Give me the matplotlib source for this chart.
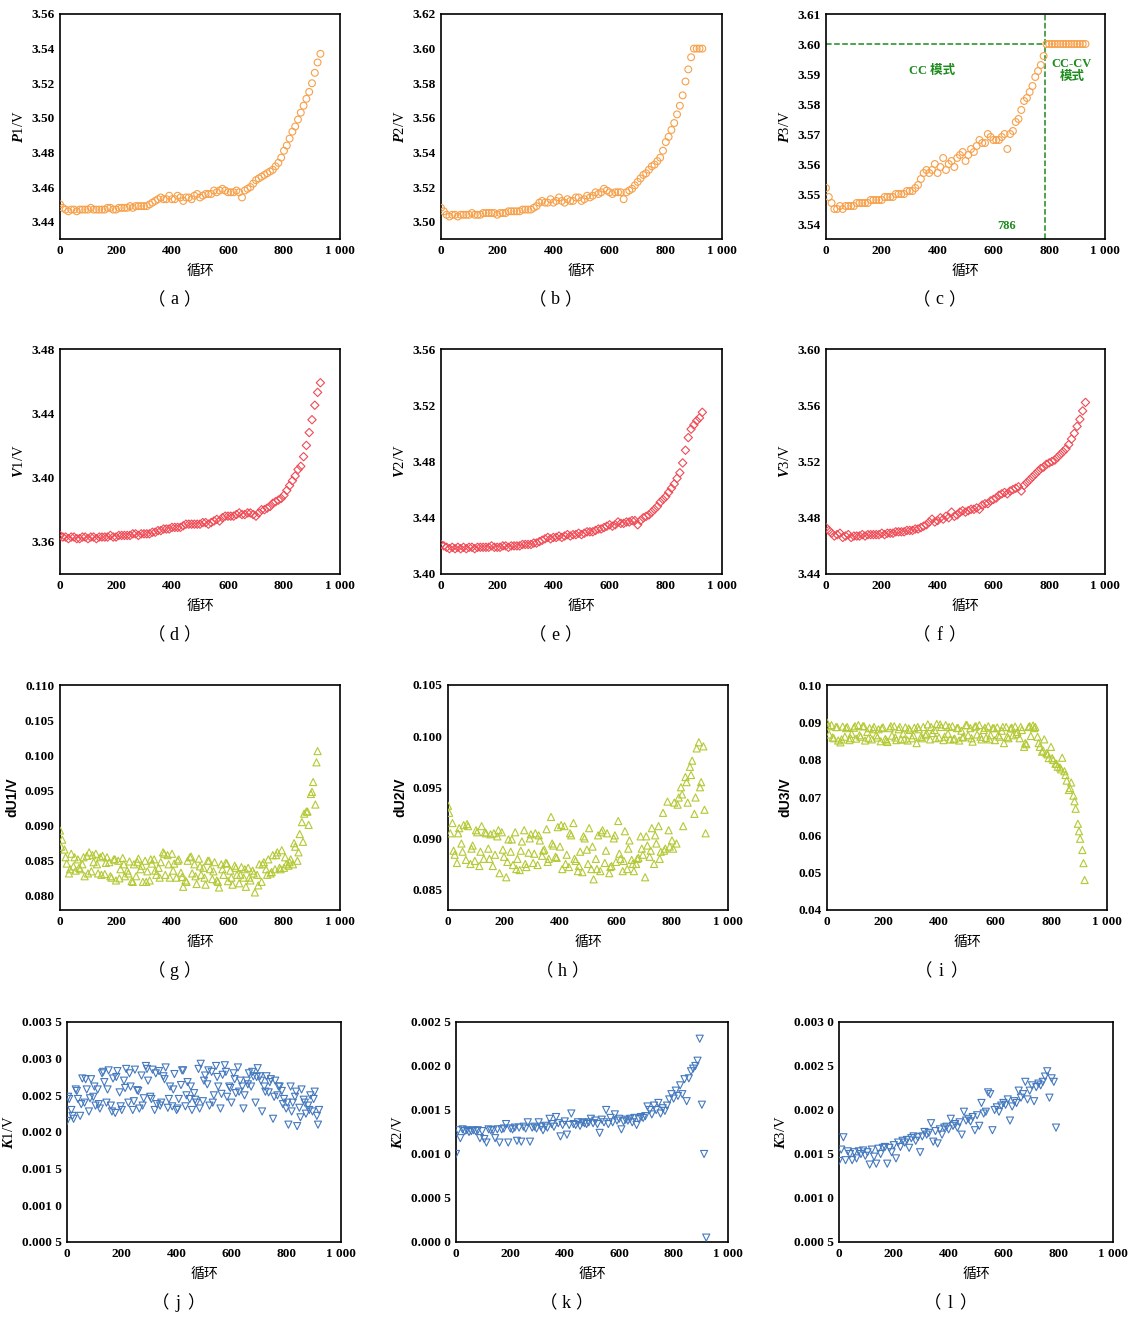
import numpy as np
import matplotlib
matplotlib.use('Agg')
import matplotlib.pyplot as plt
import matplotlib.ticker as mtick

plt.rcParams['font.family'] = ['Liberation Serif', 'Noto Sans CJK SC']
plt.rcParams['mathtext.fontset'] = 'custom'
plt.rcParams['mathtext.rm'] = 'Liberation Serif'
plt.rcParams['mathtext.it'] = 'Liberation Serif:italic:bold'
plt.rcParams['mathtext.bf'] = 'Liberation Serif:bold'

# cycle numbers
cyc10 = np.arange(0, 931, 10)
cyc8 = np.arange(0, 921, 8)
cyc16 = np.arange(4, 921, 16)
cyc8_l = np.arange(0, 793, 8)

# P1..P3 (circles)
p1 = [3.450, 3.448, 3.447, 3.446, 3.447, 3.447, 3.446, 3.447, 3.447, 3.447,
      3.447, 3.448, 3.447, 3.447, 3.447, 3.447, 3.447, 3.448, 3.448, 3.447,
      3.447, 3.448, 3.448, 3.448, 3.448, 3.449, 3.448, 3.449, 3.449, 3.449,
      3.449, 3.449, 3.450, 3.451, 3.452, 3.453, 3.454, 3.453, 3.453, 3.455,
      3.453, 3.453, 3.455, 3.454, 3.452, 3.454, 3.454, 3.453, 3.455, 3.456,
      3.454, 3.455, 3.456, 3.456, 3.456, 3.458, 3.457, 3.458, 3.459, 3.458,
      3.457, 3.457, 3.457, 3.458, 3.457, 3.454, 3.458, 3.459, 3.460, 3.462,
      3.464, 3.465, 3.466, 3.467, 3.468, 3.469, 3.470, 3.472, 3.474, 3.477,
      3.481, 3.484, 3.488, 3.492, 3.495, 3.499, 3.503, 3.507, 3.511, 3.515,
      3.520, 3.526, 3.532, 3.537]
p2 = [3.508, 3.506, 3.504, 3.503, 3.504, 3.504, 3.503, 3.504, 3.504, 3.504,
      3.504, 3.505, 3.504, 3.504, 3.504, 3.505, 3.505, 3.505, 3.505, 3.505,
      3.504, 3.505, 3.505, 3.505, 3.506, 3.506, 3.506, 3.506, 3.506, 3.507,
      3.507, 3.507, 3.507, 3.508, 3.509, 3.511, 3.512, 3.511, 3.511, 3.513,
      3.511, 3.512, 3.514, 3.512, 3.511, 3.513, 3.512, 3.512, 3.514, 3.514,
      3.512, 3.513, 3.515, 3.514, 3.515, 3.517, 3.516, 3.517, 3.519, 3.518,
      3.517, 3.516, 3.517, 3.517, 3.517, 3.513, 3.517, 3.518, 3.519, 3.521,
      3.523, 3.525, 3.527, 3.528, 3.530, 3.532, 3.533, 3.535, 3.537, 3.541,
      3.546, 3.549, 3.553, 3.557, 3.562, 3.567, 3.573, 3.581, 3.588, 3.595,
      3.600, 3.600, 3.600, 3.600]
p3 = [3.552, 3.549, 3.547, 3.545, 3.545, 3.546, 3.545, 3.546, 3.546, 3.546,
      3.546, 3.547, 3.547, 3.547, 3.547, 3.547, 3.548, 3.548, 3.548, 3.548,
      3.548, 3.549, 3.549, 3.549, 3.549, 3.550, 3.550, 3.550, 3.550, 3.551,
      3.551, 3.551, 3.552, 3.553, 3.555, 3.557, 3.558, 3.557, 3.558, 3.560,
      3.557, 3.559, 3.562, 3.558, 3.560, 3.561, 3.559, 3.562, 3.563, 3.564,
      3.561, 3.563, 3.565, 3.564, 3.566, 3.568, 3.567, 3.567, 3.570, 3.569,
      3.568, 3.568, 3.568, 3.569, 3.570, 3.565, 3.570, 3.571, 3.574, 3.575,
      3.578, 3.581, 3.582, 3.584, 3.586, 3.589, 3.591, 3.593, 3.596, 3.600,
      3.600, 3.600, 3.600, 3.600, 3.600, 3.600, 3.600, 3.600, 3.600, 3.600,
      3.600, 3.600, 3.600, 3.600]

# V1..V3 (diamonds)
v1 = [3.364, 3.363, 3.363, 3.362, 3.363, 3.363, 3.362, 3.362, 3.363, 3.363,
      3.362, 3.363, 3.363, 3.362, 3.363, 3.363, 3.363, 3.363, 3.364, 3.363,
      3.363, 3.364, 3.364, 3.364, 3.364, 3.364, 3.365, 3.365, 3.364, 3.365,
      3.365, 3.365, 3.365, 3.366, 3.366, 3.367, 3.367, 3.368, 3.368, 3.368,
      3.369, 3.369, 3.369, 3.369, 3.370, 3.371, 3.371, 3.371, 3.371, 3.371,
      3.371, 3.372, 3.372, 3.371, 3.372, 3.373, 3.374, 3.373, 3.375, 3.376,
      3.376, 3.376, 3.376, 3.377, 3.378, 3.377, 3.377, 3.378, 3.378, 3.377,
      3.376, 3.378, 3.380, 3.380, 3.381, 3.382, 3.384, 3.385, 3.386, 3.387,
      3.389, 3.392, 3.395, 3.398, 3.401, 3.405, 3.407, 3.413, 3.420, 3.428,
      3.436, 3.445, 3.453, 3.459]
v2 = [3.421, 3.420, 3.419, 3.418, 3.419, 3.418, 3.419, 3.418, 3.419, 3.418,
      3.419, 3.419, 3.418, 3.419, 3.419, 3.419, 3.419, 3.419, 3.420, 3.419,
      3.419, 3.419, 3.420, 3.420, 3.419, 3.420, 3.420, 3.420, 3.420, 3.421,
      3.421, 3.421, 3.421, 3.422, 3.422, 3.423, 3.424, 3.425, 3.426, 3.425,
      3.426, 3.426, 3.427, 3.426, 3.427, 3.428, 3.427, 3.428, 3.428, 3.429,
      3.428, 3.429, 3.430, 3.430, 3.430, 3.431, 3.432, 3.432, 3.433, 3.434,
      3.435, 3.434, 3.435, 3.437, 3.436, 3.436, 3.437, 3.437, 3.438, 3.438,
      3.435, 3.438, 3.440, 3.441, 3.442, 3.444, 3.446, 3.448, 3.451, 3.453,
      3.455, 3.458, 3.461, 3.464, 3.468, 3.472, 3.479, 3.488, 3.497, 3.503,
      3.506, 3.509, 3.511, 3.515]
v3 = [3.473, 3.471, 3.469, 3.467, 3.468, 3.469, 3.466, 3.467, 3.468, 3.466,
      3.467, 3.467, 3.467, 3.468, 3.467, 3.468, 3.468, 3.468, 3.468, 3.468,
      3.469, 3.468, 3.469, 3.469, 3.469, 3.470, 3.470, 3.470, 3.470, 3.471,
      3.471, 3.471, 3.472, 3.472, 3.473, 3.474, 3.475, 3.477, 3.479, 3.477,
      3.478, 3.480, 3.479, 3.481, 3.480, 3.484, 3.481, 3.482, 3.484, 3.485,
      3.484, 3.485, 3.486, 3.486, 3.487, 3.486, 3.489, 3.490, 3.490, 3.492,
      3.493, 3.494, 3.496, 3.497, 3.498, 3.497, 3.499, 3.500, 3.501, 3.502,
      3.499, 3.503, 3.505, 3.507, 3.509, 3.511, 3.513, 3.515, 3.516, 3.518,
      3.519, 3.520, 3.521, 3.523, 3.525, 3.527, 3.529, 3.532, 3.536, 3.540,
      3.545, 3.550, 3.556, 3.562]

# dU1..dU3 (triangles): main set on cyc8, extra set on cyc16
du1 = [0.0893, 0.0880, 0.0866, 0.0846, 0.0832, 0.0860, 0.0842, 0.0836, 0.0852, 0.0838,
       0.0845, 0.0828, 0.0857, 0.0862, 0.0835, 0.0848, 0.0860, 0.0832, 0.0855, 0.0857,
       0.0831, 0.0855, 0.0848, 0.0826, 0.0852, 0.0822, 0.0850, 0.0838, 0.0854, 0.0828,
       0.0836, 0.0849, 0.0821, 0.0845, 0.0828, 0.0853, 0.0838, 0.0820, 0.0850, 0.0835,
       0.0822, 0.0846, 0.0852, 0.0830, 0.0840, 0.0848, 0.0862, 0.0830, 0.0858, 0.0826,
       0.0860, 0.0846, 0.0826, 0.0852, 0.0833, 0.0813, 0.0822, 0.0850, 0.0855, 0.0832,
       0.0845, 0.0817, 0.0853, 0.0830, 0.0840, 0.0816, 0.0850, 0.0838, 0.0824, 0.0848,
       0.0822, 0.0812, 0.0845, 0.0830, 0.0847, 0.0821, 0.0836, 0.0816, 0.0843, 0.0830,
       0.0818, 0.0841, 0.0826, 0.0813, 0.0840, 0.0822, 0.0836, 0.0805, 0.0830, 0.0845,
       0.0820, 0.0848, 0.0838, 0.0852, 0.0832, 0.0858, 0.0838, 0.0862, 0.0840, 0.0865,
       0.0840, 0.0845, 0.0843, 0.0852, 0.0845, 0.0870, 0.0850, 0.0888, 0.0905, 0.0917,
       0.0920, 0.0901, 0.0945, 0.0962, 0.0930, 0.1006]
du1_b = [0.0870, 0.0855, 0.0838, 0.0855, 0.0840, 0.0855, 0.0832, 0.0858, 0.0845, 0.0830,
         0.0847, 0.0828, 0.0852, 0.0825, 0.0845, 0.0832, 0.0820, 0.0848, 0.0843, 0.0820,
         0.0852, 0.0836, 0.0826, 0.0860, 0.0845, 0.0836, 0.0850, 0.0827, 0.0820, 0.0856,
         0.0828, 0.0842, 0.0826, 0.0850, 0.0835, 0.0820, 0.0838, 0.0846, 0.0826, 0.0840,
         0.0830, 0.0838, 0.0826, 0.0832, 0.0815, 0.0845, 0.0830, 0.0834, 0.0858, 0.0838,
         0.0855, 0.0848, 0.0875, 0.0862, 0.0877, 0.0920, 0.0948, 0.0990]
du2 = [0.0932, 0.0905, 0.0915, 0.0884, 0.0876, 0.0910, 0.0895, 0.0913, 0.0879, 0.0912,
       0.0875, 0.0893, 0.0878, 0.0906, 0.0873, 0.0912, 0.0880, 0.0905, 0.0890, 0.0904,
       0.0873, 0.0884, 0.0902, 0.0866, 0.0906, 0.0882, 0.0862, 0.0899, 0.0887, 0.0874,
       0.0906, 0.0880, 0.0869, 0.0897, 0.0908, 0.0872, 0.0886, 0.0904, 0.0876, 0.0905,
       0.0874, 0.0898, 0.0883, 0.0889, 0.0909, 0.0880, 0.0921, 0.0893, 0.0882, 0.0911,
       0.0892, 0.0870, 0.0912, 0.0884, 0.0872, 0.0903, 0.0915, 0.0878, 0.0868, 0.0887,
       0.0867, 0.0900, 0.0889, 0.0910, 0.0870, 0.0860, 0.0880, 0.0903, 0.0868, 0.0908,
       0.0876, 0.0905, 0.0866, 0.0873, 0.0900, 0.0877, 0.0917, 0.0880, 0.0868, 0.0907,
       0.0870, 0.0898, 0.0879, 0.0868, 0.0875, 0.0881, 0.0902, 0.0884, 0.0862, 0.0893,
       0.0882, 0.0910, 0.0875, 0.0895, 0.0912, 0.0887, 0.0925, 0.0890, 0.0936, 0.0892,
       0.0898, 0.0935, 0.0895, 0.0940, 0.0950, 0.0912, 0.0960, 0.0935, 0.0970, 0.0976,
       0.0924, 0.0988, 0.0994, 0.0955, 0.0990, 0.0905]
du2_b = [0.0925, 0.0888, 0.0905, 0.0887, 0.0914, 0.0890, 0.0908, 0.0887, 0.0906, 0.0880,
         0.0905, 0.0908, 0.0889, 0.0877, 0.0899, 0.0870, 0.0888, 0.0875, 0.0900, 0.0885,
         0.0903, 0.0888, 0.0877, 0.0895, 0.0881, 0.0913, 0.0875, 0.0905, 0.0880, 0.0873,
         0.0902, 0.0875, 0.0892, 0.0870, 0.0906, 0.0888, 0.0872, 0.0903, 0.0885, 0.0878,
         0.0890, 0.0875, 0.0880, 0.0890, 0.0902, 0.0888, 0.0903, 0.0880, 0.0888, 0.0908,
         0.0890, 0.0933, 0.0943, 0.0955, 0.0962, 0.0940, 0.0950, 0.0928]
du3 = [0.0900, 0.0868, 0.0893, 0.0858, 0.0888, 0.0852, 0.0847, 0.0889, 0.0862, 0.0888,
       0.0853, 0.0870, 0.0886, 0.0857, 0.0893, 0.0862, 0.0890, 0.0852, 0.0875, 0.0885,
       0.0855, 0.0888, 0.0866, 0.0882, 0.0850, 0.0887, 0.0856, 0.0848, 0.0885, 0.0865,
       0.0890, 0.0853, 0.0882, 0.0855, 0.0870, 0.0887, 0.0852, 0.0880, 0.0858, 0.0886,
       0.0845, 0.0882, 0.0862, 0.0888, 0.0866, 0.0895, 0.0855, 0.0872, 0.0880, 0.0896,
       0.0860, 0.0888, 0.0853, 0.0893, 0.0870, 0.0855, 0.0890, 0.0857, 0.0885, 0.0852,
       0.0878, 0.0862, 0.0893, 0.0866, 0.0885, 0.0849, 0.0889, 0.0868, 0.0893, 0.0855,
       0.0880, 0.0859, 0.0890, 0.0866, 0.0885, 0.0853, 0.0887, 0.0862, 0.0878, 0.0845,
       0.0888, 0.0858, 0.0884, 0.0866, 0.0889, 0.0875, 0.0858, 0.0880, 0.0835, 0.0842,
       0.0888, 0.0864, 0.0892, 0.0888, 0.0862, 0.0835, 0.0822, 0.0855, 0.0818, 0.0805,
       0.0835, 0.0800, 0.0790, 0.0782, 0.0780, 0.0806, 0.0770, 0.0745, 0.0720, 0.0740,
       0.0705, 0.0670, 0.0630, 0.0590, 0.0560, 0.0480]
du3_b = [0.0890, 0.0860, 0.0888, 0.0855, 0.0885, 0.0858, 0.0890, 0.0866, 0.0890, 0.0858,
         0.0882, 0.0860, 0.0885, 0.0852, 0.0890, 0.0860, 0.0888, 0.0855, 0.0884, 0.0866,
         0.0888, 0.0858, 0.0870, 0.0888, 0.0858, 0.0895, 0.0862, 0.0888, 0.0855, 0.0886,
         0.0860, 0.0893, 0.0858, 0.0890, 0.0862, 0.0886, 0.0855, 0.0885, 0.0866, 0.0888,
         0.0862, 0.0886, 0.0870, 0.0888, 0.0845, 0.0890, 0.0885, 0.0845, 0.0825, 0.0815,
         0.0805, 0.0790, 0.0775, 0.0760, 0.0725, 0.0690, 0.0610, 0.0525]

# K1..K3 (down triangles)
k1 = [0.00215, 0.00245, 0.00230, 0.00218, 0.00258, 0.00245, 0.00222, 0.00273, 0.00240, 0.00258,
      0.00228, 0.00272, 0.00248, 0.00236, 0.00258, 0.00232, 0.00280, 0.00268, 0.00240, 0.00284,
      0.00236, 0.00273, 0.00226, 0.00283, 0.00254, 0.00230, 0.00270, 0.00286, 0.00240, 0.00262,
      0.00230, 0.00285, 0.00257, 0.00232, 0.00277, 0.00246, 0.00290, 0.00270, 0.00248, 0.00285,
      0.00230, 0.00238, 0.00283, 0.00240, 0.00276, 0.00288, 0.00233, 0.00262, 0.00235, 0.00279,
      0.00230, 0.00245, 0.00264, 0.00284, 0.00235, 0.00268, 0.00245, 0.00230, 0.00253, 0.00240,
      0.00286, 0.00293, 0.00242, 0.00277, 0.00265, 0.00236, 0.00282, 0.00250, 0.00290, 0.00262,
      0.00232, 0.00278, 0.00291, 0.00248, 0.00262, 0.00240, 0.00280, 0.00253, 0.00288, 0.00270,
      0.00262, 0.00250, 0.00270, 0.00280, 0.00262, 0.00276, 0.00240, 0.00287, 0.00276, 0.00228,
      0.00262, 0.00276, 0.00254, 0.00272, 0.00218, 0.00270, 0.00250, 0.00262, 0.00256, 0.00245,
      0.00232, 0.00210, 0.00262, 0.00240, 0.00248, 0.00208, 0.00233, 0.00258, 0.00244, 0.00225,
      0.00236, 0.00250, 0.00228, 0.00255, 0.00222, 0.00230]
k1_b = [0.00248, 0.00222, 0.00256, 0.00238, 0.00272, 0.00246, 0.00262, 0.00238, 0.00282, 0.00258,
        0.00228, 0.00275, 0.00235, 0.00260, 0.00280, 0.00242, 0.00256, 0.00236, 0.00286, 0.00245,
        0.00280, 0.00236, 0.00272, 0.00245, 0.00258, 0.00232, 0.00284, 0.00250, 0.00262, 0.00244,
        0.00232, 0.00270, 0.00284, 0.00240, 0.00275, 0.00252, 0.00282, 0.00260, 0.00272, 0.00255,
        0.00232, 0.00265, 0.00282, 0.00275, 0.00270, 0.00255, 0.00268, 0.00248, 0.00262, 0.00238,
        0.00240, 0.00228, 0.00255, 0.00220, 0.00240, 0.00230, 0.00245, 0.00210]
k2 = [0.00100, 0.00127, 0.00118, 0.00128, 0.00126, 0.00127, 0.00125, 0.00126, 0.00127, 0.00126,
      0.00127, 0.00118, 0.00126, 0.00117, 0.00113, 0.00128, 0.00127, 0.00127, 0.00118, 0.00128,
      0.00113, 0.00128, 0.00129, 0.00134, 0.00113, 0.00129, 0.00128, 0.00130, 0.00115, 0.00130,
      0.00114, 0.00131, 0.00129, 0.00136, 0.00114, 0.00130, 0.00131, 0.00129, 0.00136, 0.00131,
      0.00127, 0.00132, 0.00130, 0.00140, 0.00134, 0.00131, 0.00142, 0.00135, 0.00120, 0.00133,
      0.00137, 0.00122, 0.00133, 0.00146, 0.00134, 0.00133, 0.00136, 0.00132, 0.00136, 0.00135,
      0.00134, 0.00136, 0.00140, 0.00135, 0.00138, 0.00134, 0.00124, 0.00139, 0.00136, 0.00150,
      0.00134, 0.00141, 0.00136, 0.00145, 0.00138, 0.00140, 0.00128, 0.00137, 0.00139, 0.00138,
      0.00140, 0.00136, 0.00141, 0.00133, 0.00140, 0.00142, 0.00141, 0.00143, 0.00154, 0.00150,
      0.00145, 0.00155, 0.00150, 0.00158, 0.00146, 0.00152, 0.00149, 0.00155, 0.00162, 0.00168,
      0.00163, 0.00172, 0.00166, 0.00178, 0.00168, 0.00185, 0.00160, 0.00186, 0.00194, 0.00197,
      0.00200, 0.00206, 0.00231, 0.00156, 0.00100, 0.00005]
k3 = [0.00142, 0.00155, 0.00169, 0.00143, 0.00153, 0.00150, 0.00143, 0.00152, 0.00145, 0.00153,
      0.00150, 0.00154, 0.00148, 0.00152, 0.00138, 0.00155, 0.00147, 0.00139, 0.00156, 0.00150,
      0.00157, 0.00158, 0.00139, 0.00157, 0.00152, 0.00160, 0.00145, 0.00163, 0.00158, 0.00165,
      0.00163, 0.00166, 0.00157, 0.00168, 0.00170, 0.00165, 0.00169, 0.00152, 0.00170, 0.00175,
      0.00172, 0.00174, 0.00185, 0.00164, 0.00176, 0.00162, 0.00178, 0.00172, 0.00180, 0.00181,
      0.00178, 0.00190, 0.00182, 0.00184, 0.00180, 0.00186, 0.00172, 0.00198, 0.00188, 0.00190,
      0.00187, 0.00192, 0.00177, 0.00194, 0.00182, 0.00208, 0.00196, 0.00198, 0.00220, 0.00218,
      0.00177, 0.00200, 0.00203, 0.00198, 0.00205, 0.00208, 0.00206, 0.00212, 0.00188, 0.00204,
      0.00210, 0.00208, 0.00222, 0.00214, 0.00218, 0.00232, 0.00212, 0.00222, 0.00228, 0.00210,
      0.00226, 0.00230, 0.00228, 0.00232, 0.00238, 0.00244, 0.00214, 0.00236, 0.00232, 0.00180]

W, H = 1130, 1319
fig = plt.figure(figsize=(W / 100, H / 100), dpi=100)

orange = '#F7A04A'
red = '#F04A55'
lime = '#B4C934'
blue = '#4479BE'
green = '#1E8C1E'


def k_fmt(v, pos):
    s = '{0:.4f}'.format(v)
    return s[:-1] + ' ' + s[-1]


def x_fmt(v, pos):
    return '{0:,}'.format(int(round(v))).replace(',', ' ')


def make_ax(box, sets, marker, color, ylim, yticks, yfmt, ylabel, tag, s=24, sans=False):
    l, t, r, b = box
    ax = fig.add_axes([l / W, 1 - b / H, (r - l) / W, (b - t) / H])
    for x, y in sets:
        ax.scatter(x, y, marker=marker, s=s, facecolors='none', edgecolors=color, linewidths=0.8, zorder=3)
    ax.set_xlim(0, 1000)
    ax.set_ylim(*ylim)
    ax.set_xticks(np.arange(0, 1001, 200))
    ax.set_yticks(yticks)
    ax.xaxis.set_major_formatter(mtick.FuncFormatter(x_fmt))
    if yfmt == 'k':
        ax.yaxis.set_major_formatter(mtick.FuncFormatter(k_fmt))
    else:
        ax.yaxis.set_major_formatter(mtick.FormatStrFormatter(yfmt))
    ax.tick_params(length=0, labelsize=9.5, pad=4)
    for lab in ax.get_xticklabels() + ax.get_yticklabels():
        lab.set_fontweight('bold')
    for sp in ax.spines.values():
        sp.set_linewidth(1.2)
    ax.set_xlabel('循环', fontsize=10, family=['Noto Sans CJK SC'], labelpad=5)
    if sans:
        ax.set_ylabel(ylabel, fontsize=10, family='Liberation Sans', fontweight='bold', labelpad=4)
    else:
        ax.set_ylabel(ylabel, fontsize=10.5, labelpad=4)
    # panel tag "（x）"
    cx = (l + r) / 2 - 26
    cy = 1 - (b + 61) / H
    fig.text(cx / W, cy, tag, ha='center', va='center', fontsize=13, family='Liberation Serif')
    fig.text((cx - 9) / W, cy, '（', ha='right', va='center', fontsize=12.5, family='Noto Sans CJK SC')
    fig.text((cx + 9) / W, cy, '）', ha='left', va='center', fontsize=12.5, family='Noto Sans CJK SC')
    return ax


make_ax((60, 14, 340, 239), [(cyc10, p1)], 'o', orange, (3.43, 3.56), np.arange(3.44, 3.561, 0.02), '%.2f', r'$P$1/V', 'a')
make_ax((441, 14, 722, 239), [(cyc10, p2)], 'o', orange, (3.49, 3.62), np.arange(3.50, 3.621, 0.02), '%.2f', r'$P$2/V', 'b')
axc = make_ax((826, 14, 1105, 239), [(cyc10, p3)], 'o', orange, (3.535, 3.61), np.arange(3.54, 3.611, 0.01), '%.2f', r'$P$3/V', 'c')
axc.plot([0, 786], [3.60, 3.60], ls='--', color=green, lw=1.1, zorder=2)
axc.axvline(786, ls='--', color=green, lw=1.1, zorder=2)
tfam = ['Liberation Serif', 'Noto Sans CJK SC']
axc.text(379, 3.5911, 'CC 模式', color=green, fontsize=9, fontweight='bold', family=tfam, ha='center', va='center')
axc.text(881, 3.5912, 'CC-CV\n模式', color=green, fontsize=9, fontweight='bold', family=tfam, ha='center', va='center', linespacing=1.1)
axc.text(648, 3.5393, '786', color=green, fontsize=9, fontweight='bold', family=tfam, ha='center', va='center')

make_ax((60, 349, 340, 574), [(cyc10, v1)], 'D', red, (3.34, 3.48), [3.36, 3.40, 3.44, 3.48], '%.2f', r'$V$1/V', 'd', s=18)
make_ax((441, 349, 722, 574), [(cyc10, v2)], 'D', red, (3.40, 3.56), np.arange(3.40, 3.561, 0.04), '%.2f', r'$V$2/V', 'e', s=18)
make_ax((826, 349, 1105, 574), [(cyc10, v3)], 'D', red, (3.44, 3.60), np.arange(3.44, 3.601, 0.04), '%.2f', r'$V$3/V', 'f', s=18)

make_ax((60, 685, 340, 910), [(cyc8, du1), (cyc16, du1_b)], '^', lime, (0.078, 0.110), np.arange(0.080, 0.1101, 0.005), '%.3f', 'dU1/V', 'g', s=26, sans=True)
make_ax((448, 685, 728, 910), [(cyc8, du2), (cyc16, du2_b)], '^', lime, (0.083, 0.105), np.arange(0.085, 0.1051, 0.005), '%.3f', 'dU2/V', 'h', s=26, sans=True)
make_ax((827, 685, 1107, 910), [(cyc8, du3), (cyc16, du3_b)], '^', lime, (0.04, 0.10), np.arange(0.04, 0.1001, 0.01), '%.2f', 'dU3/V', 'i', s=26, sans=True)

make_ax((67, 1022, 341, 1242), [(cyc8, k1), (cyc16, k1_b)], 'v', blue, (0.0005, 0.0035), np.arange(0.0005, 0.00351, 0.0005), 'k', r'$K$1/V', 'j', s=26)
make_ax((456, 1022, 728, 1242), [(cyc8, k2)], 'v', blue, (0.0, 0.0025), np.arange(0.0, 0.00251, 0.0005), 'k', r'$K$2/V', 'k', s=26)
make_ax((839, 1022, 1113, 1242), [(cyc8_l, k3)], 'v', blue, (0.0005, 0.0030), np.arange(0.0005, 0.00301, 0.0005), 'k', r'$K$3/V', 'l', s=26)

fig.savefig('out.png', dpi=100, facecolor='w')
